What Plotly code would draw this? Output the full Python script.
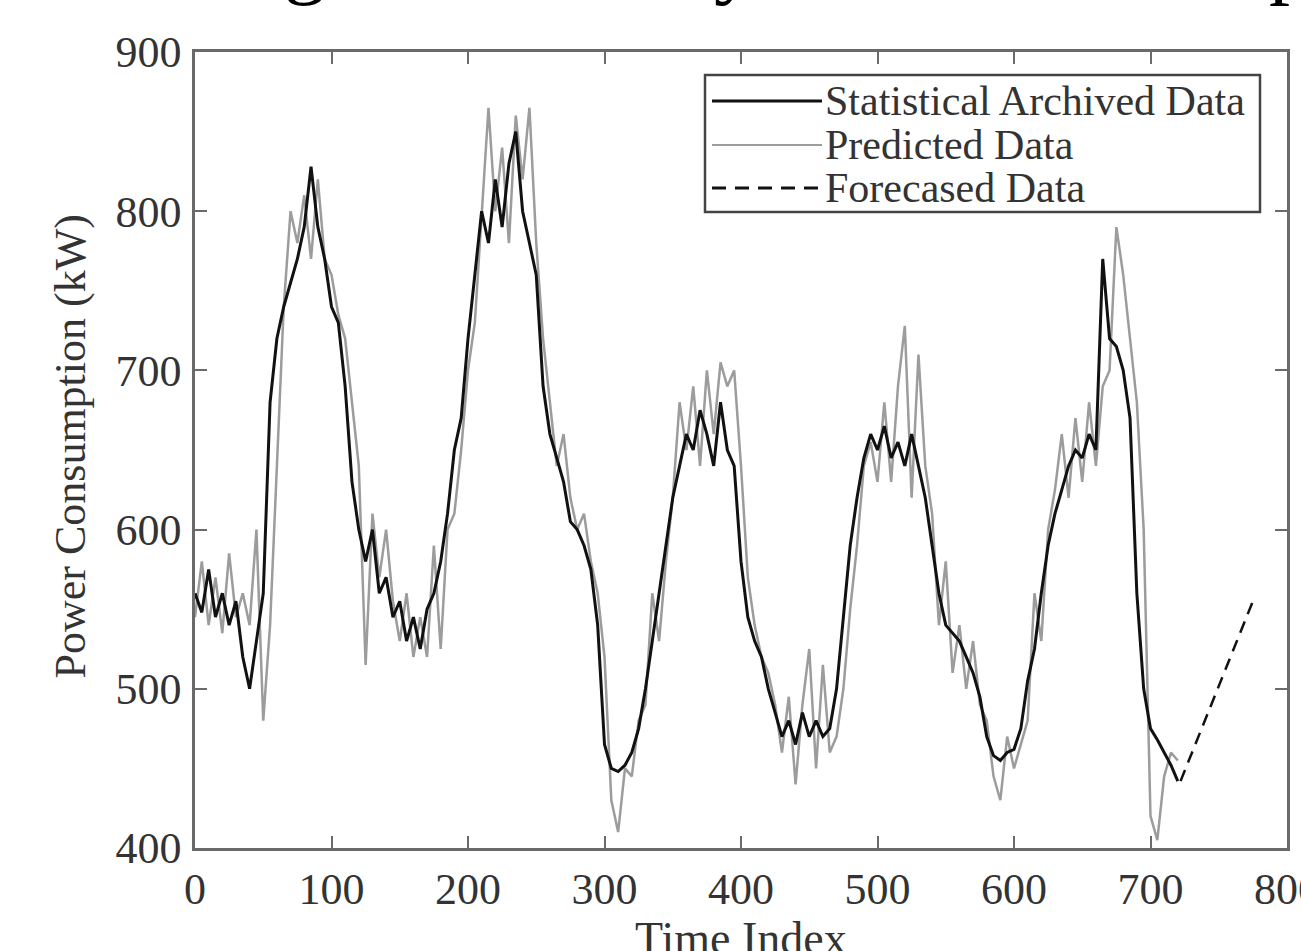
import plotly.graph_objects as go

# ---------------- data ----------------
time_index = list(range(0, 721, 5))

archived = [
    560, 548, 575, 545, 560, 540, 555, 520, 500, 530,
    560, 680, 720, 740, 755, 770, 790, 828, 790, 770,
    740, 730, 690, 630, 600, 580, 600, 560, 570, 545,
    555, 530, 545, 525, 550, 560, 580, 610, 650, 670,
    720, 760, 800, 780, 820, 790, 830, 850, 800, 780,
    760, 690, 660, 645, 630, 605, 600, 590, 575, 540,
    465, 450, 448, 452, 460, 475, 500, 530, 560, 590,
    620, 640, 660, 650, 675, 660, 640, 680, 650, 640,
    580, 545, 530, 520, 500, 485, 470, 480, 465, 485,
    470, 480, 470, 475, 500, 545, 590, 620, 645, 660,
    650, 665, 645, 655, 640, 660, 640, 620, 590, 560,
    540, 535, 530, 520, 510, 495, 470, 458, 455, 460,
    462, 475, 505, 525, 560, 590, 610, 625, 640, 650,
    645, 660, 650, 770, 720, 715, 700, 670, 560, 500,
    475, 468, 460, 452, 442,
]

predicted = [
    545, 580, 540, 570, 535, 585, 545, 560, 540, 600,
    480, 540, 640, 740, 800, 780, 810, 770, 820, 770,
    760, 735, 720, 680, 640, 515, 610, 570, 600, 555,
    530, 560, 520, 545, 520, 590, 525, 600, 610, 650,
    700, 730, 800, 865, 800, 840, 780, 860, 820, 865,
    780, 720, 680, 640, 660, 620, 600, 610, 580, 560,
    520, 430, 410, 450, 445, 480, 490, 560, 530, 580,
    620, 680, 650, 690, 640, 700, 660, 705, 690, 700,
    640, 570, 540, 520, 510, 490, 460, 495, 440, 490,
    525, 450, 515, 460, 470, 500, 550, 590, 640, 655,
    630, 680, 630, 690, 728, 620, 710, 640, 610, 540,
    580, 510, 540, 500, 530, 490, 480, 445, 430, 470,
    450, 465, 480, 560, 530, 600, 625, 660, 620, 670,
    630, 680, 640, 690, 700, 790, 760, 720, 680, 600,
    420, 405, 445, 460, 455,
]

forecast_x = [722, 775]
forecast_y = [442, 555]

x_ticks = [0, 100, 200, 300, 400, 500, 600, 700, 800]
y_ticks = [400, 500, 600, 700, 800, 900]

legend_names = ["Statistical Archived Data", "Predicted Data", "Forecased Data"]

SERIF = "Liberation Serif, Times New Roman, serif"
BLACK = "#111111"
GRAY = "#9c9c9c"

fig = go.Figure()
fig.add_trace(go.Scatter(
    x=time_index, y=predicted, mode="lines", name=legend_names[1],
    line=dict(color=GRAY, width=2.5)))
fig.add_trace(go.Scatter(
    x=time_index, y=archived, mode="lines", name=legend_names[0],
    line=dict(color=BLACK, width=3)))
fig.add_trace(go.Scatter(
    x=forecast_x, y=forecast_y, mode="lines", name=legend_names[2],
    line=dict(color=BLACK, width=2.5, dash="12px,8px")))

axis_common = dict(
    showgrid=False, zeroline=False, showline=True, linecolor="#6a6a6a",
    linewidth=2.5, mirror="allticks", ticks="inside", ticklen=12,
    tickcolor="#6a6a6a", tickwidth=1.5, automargin=False,
    ticklabeloverflow="allow",
    tickfont=dict(family=SERIF, size=44, color="#333333"),
)

fig.update_layout(
    width=1301, height=951,
    margin=dict(l=195, r=14, t=52, b=103),
    paper_bgcolor="white", plot_bgcolor="white",
    xaxis=dict(range=[0, 800], tickvals=x_ticks, ticklabelstandoff=0,
               **axis_common),
    yaxis=dict(range=[400, 900], tickvals=y_ticks, ticklabelstandoff=2,
               **axis_common),
    showlegend=False,
)

# axis titles
fig.add_annotation(text="Time Index", xref="paper", yref="paper",
                   x=0.5, y=(848 - 911) / 796, xanchor="center",
                   yanchor="top", showarrow=False,
                   font=dict(family=SERIF, size=46, color="#333333"))
fig.add_annotation(text="Power Consumption (kW)", xref="paper", yref="paper",
                   x=(44 - 195) / 1092, y=(848 - 447) / 796, textangle=-90,
                   xanchor="left", yanchor="middle", showarrow=False,
                   font=dict(family=SERIF, size=44, color="#333333"))

# legend box (drawn in paper space)
def px_x(p):
    return (p - 195) / 1092

def px_y(p):
    return (848 - p) / 796

fig.add_shape(type="rect", xref="paper", yref="paper",
              x0=px_x(705), x1=px_x(1260), y0=px_y(212), y1=px_y(75),
              line=dict(color="#444444", width=2.5), fillcolor="white",
              layer="above")
legend_styles = [dict(color=BLACK, width=3),
                 dict(color=GRAY, width=2),
                 dict(color=BLACK, width=3, dash="14px,9px")]
for name, style, row_y in zip(legend_names, legend_styles, [101, 145, 188]):
    fig.add_shape(type="line", xref="paper", yref="paper",
                  x0=px_x(712), x1=px_x(822), y0=px_y(row_y), y1=px_y(row_y),
                  line=style, layer="above")
    fig.add_annotation(text=name, xref="paper", yref="paper",
                       x=px_x(823), y=px_y(row_y), xanchor="left",
                       yanchor="middle", showarrow=False,
                       font=dict(family=SERIF, size=42, color="#333333"))

# fragments of a cut-off heading above the chart
for ch, xp in [("g", 305), ("y", 735), ("p", 1290)]:
    fig.add_annotation(text=ch, xref="paper", yref="paper",
                       x=(xp - 195) / 1092, y=(848 - 8) / 796,
                       xanchor="center", yanchor="bottom", showarrow=False,
                       font=dict(family=SERIF, size=84, color="black"))

fig.write_html("out.html")
